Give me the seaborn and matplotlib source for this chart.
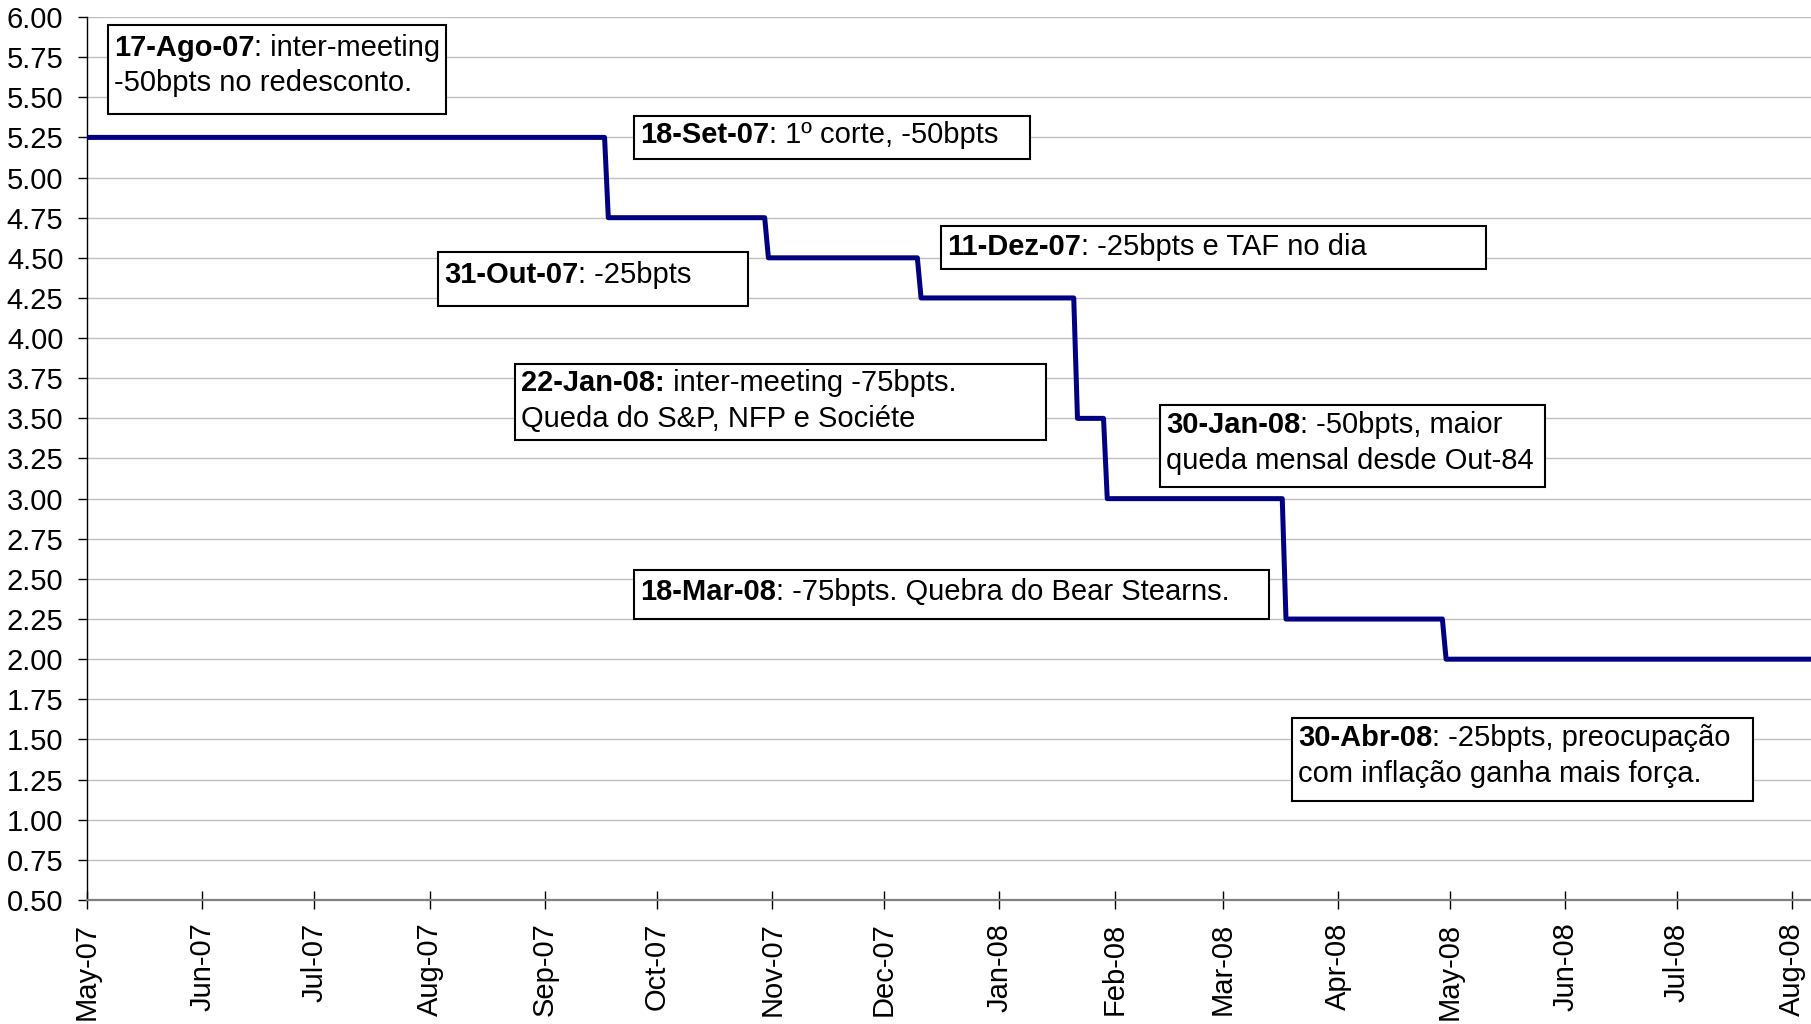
import numpy as np
import pandas as pd
import matplotlib
matplotlib.use("Agg")
import matplotlib.pyplot as plt
import matplotlib.dates as mdates
from matplotlib.patches import Rectangle
from matplotlib.ticker import FixedLocator, FormatStrFormatter
import seaborn as sns

# Fed funds target rate: decision dates and the new target set on each
change_dates = ["2007-05-01", "2007-09-18", "2007-10-31", "2007-12-11",
                "2008-01-22", "2008-01-30", "2008-03-18", "2008-04-30"]
target_rates = [5.25, 4.75, 4.50, 4.25, 3.50, 3.00, 2.25, 2.00]
series_end = "2008-08-06"

y_ticks = [0.50, 0.75, 1.00, 1.25, 1.50, 1.75, 2.00, 2.25, 2.50, 2.75, 3.00,
           3.25, 3.50, 3.75, 4.00, 4.25, 4.50, 4.75, 5.00, 5.25, 5.50, 5.75, 6.00]

# Annotation texts: bold date, rest of first line, optional second line
note_bold = ["17-Ago-07", "18-Set-07", "31-Out-07", "11-Dez-07",
             "22-Jan-08:", "30-Jan-08", "18-Mar-08", "30-Abr-08"]
note_rest = [": inter-meeting", ": 1º corte, -50bpts", ": -25bpts",
             ": -25bpts e TAF no dia", " inter-meeting -75bpts.",
             ": -50bpts, maior", ": -75bpts. Quebra do Bear Stearns.",
             ": -25bpts, preocupação"]
note_line2 = ["-50bpts no redesconto.", None, None, None,
              "Queda do S&P, NFP e Sociéte", "queda mensal desde Out-84", None,
              "com inflação ganha mais força."]

# Box geometry in pixels (x0, y0, x1, y1) from the top-left corner
note_boxes = [(108, 25, 446, 114), (634, 116, 1030, 159), (438, 252, 748, 306),
              (941, 226, 1486, 269), (515, 364, 1046, 440), (1160, 405, 1545, 487),
              (634, 570, 1269, 619), (1292, 718, 1753, 801)]
note_baselines = [(56, 91), (143, None), (283, None), (255, None),
                  (391, 427), (433, 469), (600, None), (746, 782)]

sns.set_style("white")
plt.rcParams["font.family"] = ["Liberation Sans", "DejaVu Sans"]
plt.rcParams["text.color"] = "black"
plt.rcParams["xtick.color"] = "black"
plt.rcParams["ytick.color"] = "black"
plt.rcParams["axes.labelcolor"] = "black"

W, H = 1811, 1024
FS = 21
fig = plt.figure(figsize=(W / 100, H / 100), dpi=100)
ax = fig.add_axes([87 / W, 1 - 900 / H, 1 - 87 / W, (900 - 17) / H])

# Daily series held at the target set on the latest decision date
idx = pd.to_datetime(change_dates)
daily = (pd.Series(target_rates, index=idx)
         .reindex(pd.date_range(change_dates[0], series_end, freq="D"))
         .ffill())
df = pd.DataFrame({"data": daily.index, "taxa": daily.values})

sns.lineplot(data=df, x="data", y="taxa", ax=ax, color="#000080",
             linewidth=3.6, zorder=3)

ax.set_xlim(pd.Timestamp(change_dates[0]), pd.Timestamp(series_end))
ax.set_ylim(0.5, 6.0)
ax.yaxis.set_major_locator(FixedLocator(y_ticks))
ax.yaxis.set_major_formatter(FormatStrFormatter("%.2f"))
ax.xaxis.set_major_locator(mdates.MonthLocator())
ax.xaxis.set_major_formatter(mdates.DateFormatter("%b-%y"))
ax.set_xlabel("")
ax.set_ylabel("")

ax.grid(axis="y", color="#c0c0c0", linewidth=1.0)
ax.grid(axis="x", visible=False)
for s in ("top", "right"):
    ax.spines[s].set_visible(False)
ax.spines["left"].set_color("black")
ax.spines["left"].set_linewidth(1.0)
ax.spines["bottom"].set_color("#808080")
ax.spines["bottom"].set_linewidth(1.6)

ax.tick_params(axis="y", direction="out", length=6.5, width=1.0, color="black",
               labelcolor="black", pad=10.5, labelsize=FS, left=True)
ax.tick_params(axis="x", direction="inout", length=13.5, width=1.0, color="black",
               labelcolor="black", pad=9.5, labelsize=FS, bottom=True, rotation=90)
for lab in ax.get_xticklabels():
    lab.set_va("top")
    lab.set_ha("center")

# Annotation boxes
for i, (x0, y0, x1, y1) in enumerate(note_boxes):
    fig.add_artist(Rectangle((x0 / W, 1 - y1 / H), (x1 - x0) / W, (y1 - y0) / H,
                             transform=fig.transFigure, facecolor="white",
                             edgecolor="black", linewidth=1.5, zorder=2))
    tx = (x0 + 6) / W
    b1, b2 = note_baselines[i]
    t1 = fig.text(tx, 1 - b1 / H, note_bold[i], fontsize=FS, fontweight="bold",
                  color="black", va="baseline", ha="left", zorder=3)
    fig.add_artist(plt.Annotation(note_rest[i], xy=(1, 0), xycoords=t1,
                                  va="bottom", ha="left", fontsize=FS,
                                  color="black", zorder=3))
    if note_line2[i]:
        fig.text(tx, 1 - b2 / H, note_line2[i], fontsize=FS, va="baseline",
                 color="black", ha="left", zorder=3)

fig.savefig("out.png", dpi=100)
